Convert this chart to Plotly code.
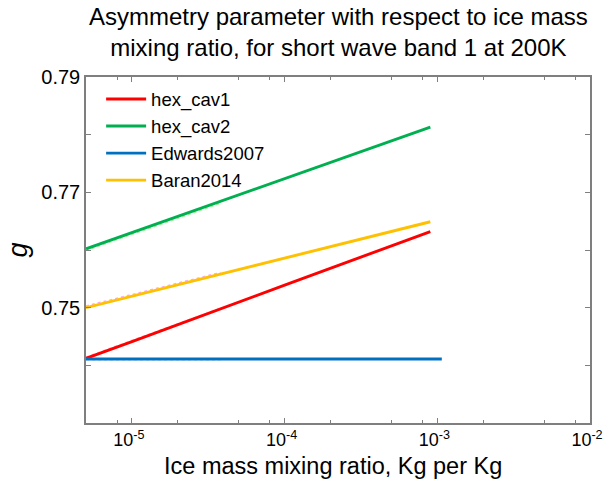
import plotly.graph_objects as go

# Ice mass mixing ratio (Kg per Kg) at which each series was read
x_main = [5e-6, 1e-5, 1e-4, 9e-4]
x_edwards = [5e-6, 1e-5, 1e-4, 1.07e-3]
x_faint = [5e-6, 1e-5, 3.8e-5]

hex_cav1 = [0.7412, 0.7441, 0.7539, 0.7632]
hex_cav2 = [0.7602, 0.7630, 0.7724, 0.7813]
edwards2007 = [0.7411, 0.7411, 0.7411, 0.7411]
baran2014 = [0.7500, 0.7520, 0.7586, 0.7649]

# faint dotted companions (not in legend)
hex_cav1_faint = [0.7414, 0.7443, 0.7499]
hex_cav2_faint = [0.7599, 0.7627, 0.7681]
edwards_faint = [0.7410, 0.7410, 0.7410]
baran_faint = [0.7503, 0.7523, 0.7561]

series = [
    ("hex_cav1", x_main, hex_cav1, "#FF0000"),
    ("hex_cav2", x_main, hex_cav2, "#00B050"),
    ("Edwards2007", x_edwards, edwards2007, "#0070C0"),
    ("Baran2014", x_main, baran2014, "#FFC000"),
]
faint = [
    (hex_cav1_faint, "rgba(255,120,160,0.6)"),
    (hex_cav2_faint, "rgba(120,230,120,0.7)"),
    (edwards_faint, "rgba(120,170,255,0.8)"),
    (baran_faint, "rgba(240,120,230,0.6)"),
]

x_ticks = [1e-5, 1e-4, 1e-3, 1e-2]
x_ticktext = ["10<sup>-5</sup>", "10<sup>-4</sup>", "10<sup>-3</sup>", "10<sup>-2</sup>"]
x_minor = [8e-6, 2e-5, 5e-5, 8e-5, 2e-4, 5e-4, 8e-4, 2e-3, 5e-3, 8e-3]
y_ticks = [0.75, 0.77, 0.79]
y_minor = [0.74, 0.76, 0.78]

title_text = "Asymmetry parameter with respect to ice mass<br>mixing ratio, for short wave band 1 at 200K"
xlabel_text = "Ice mass mixing ratio, Kg per Kg"

FONT = "Liberation Sans, Arial"
W, H = 611, 483
ML, MR, MT, MB = 86, 21, 77, 60
PH = H - MT - MB

fig = go.Figure()
for vals, col in faint:
    fig.add_trace(go.Scatter(x=x_faint, y=vals, mode="lines", showlegend=False,
                             line=dict(color=col, width=1.5, dash="dot"), hoverinfo="skip"))
for name, xs, ys, col in series:
    fig.add_trace(go.Scatter(x=xs, y=ys, mode="lines", name=name,
                             line=dict(color=col, width=2.9)))

axis_common = dict(showline=True, linecolor="#7f7f7f", linewidth=1.5, mirror="ticks",
                   ticks="inside", ticklen=5, tickcolor="#7f7f7f", tickwidth=1,
                   showgrid=False, zeroline=False, automargin=False)

fig.update_layout(
    width=W, height=H,
    margin=dict(l=ML, r=MR, t=MT, b=MB, autoexpand=False),
    paper_bgcolor="white", plot_bgcolor="white",
    font=dict(family=FONT, color="#000"),
    showlegend=True,
    legend=dict(x=0.03, y=0.99, xanchor="left", yanchor="top",
                font=dict(size=18.5, family=FONT, color="#000"),
                bgcolor="rgba(0,0,0,0)", tracegroupgap=0, itemwidth=40),
    xaxis=dict(type="log", range=[-5.30103, -2], tickmode="array",
               tickvals=x_ticks, ticktext=x_ticktext, ticklabelshift=-3,
               tickfont=dict(family=FONT, size=18, color="#000"),
               minor=dict(tickmode="array", tickvals=x_minor, ticks="inside",
                          ticklen=3, tickcolor="#7f7f7f"),
               **axis_common),
    yaxis=dict(range=[0.73, 0.79], tickmode="array", tickvals=y_ticks,
               ticktext=[f"{v:.2f}" for v in y_ticks],
               tickfont=dict(family=FONT, size=20, color="#000"),
               minor=dict(tickmode="array", tickvals=y_minor, ticks="inside",
                          ticklen=5, tickcolor="#7f7f7f"),
               title=dict(text="<i>g</i>", font=dict(size=27, family=FONT, color="#000"),
                          standoff=6),
               **axis_common),
    annotations=[
        dict(text=title_text, xref="paper", yref="paper", x=0.5, xanchor="center",
             y=1 + (MT - 1) / PH, yanchor="top", showarrow=False,
             font=dict(size=24, family=FONT, color="#000")),
        dict(text=xlabel_text, xref="paper", yref="paper", x=0.49, xanchor="center",
             y=-(466 - (H - MB)) / PH, yanchor="middle", showarrow=False,
             font=dict(size=23.5, family=FONT, color="#000")),
    ],
)

fig.write_html("out.html", config={"displayModeBar": False},
               post_script="document.body.style.margin='0px';document.body.style.overflow='hidden';")
